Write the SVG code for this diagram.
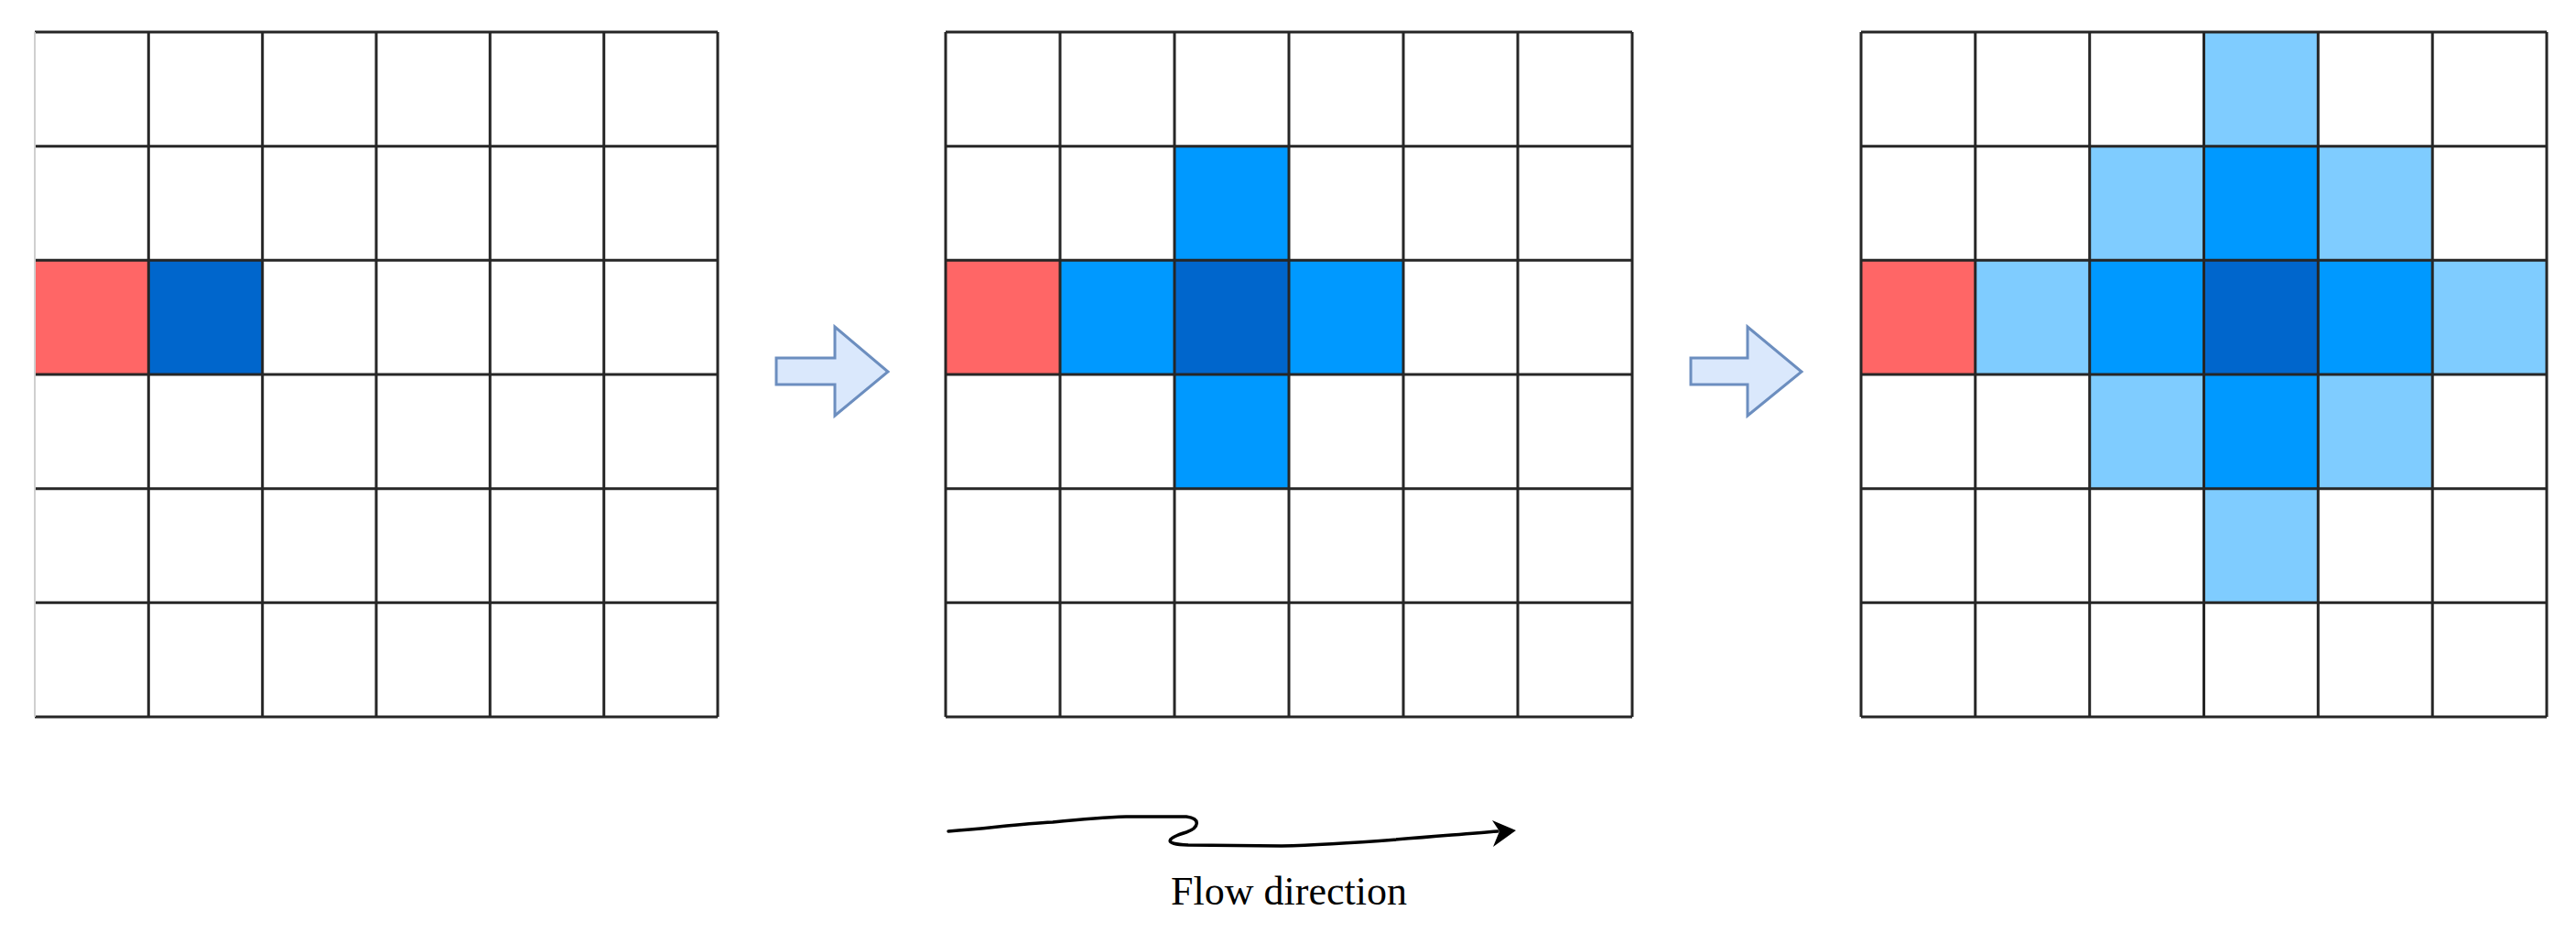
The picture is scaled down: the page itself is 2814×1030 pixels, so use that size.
<svg xmlns="http://www.w3.org/2000/svg" width="2814" height="1030" viewBox="0 0 2814 1030">
<style>
.red{fill:#FF6666}
.dk{fill:#0066CC}
.md{fill:#0099FF}
.lt{fill:#7FCCFF}
.grid{fill:none;stroke:#262626;stroke-width:3}
.big{fill:#DAE8FC;stroke:#6C8EBF;stroke-width:3;stroke-linejoin:miter}
.flow{fill:none;stroke:#000;stroke-width:3.5;stroke-linecap:round;stroke-linejoin:round}
.lbl{font-family:"Liberation Serif","Times New Roman",serif;font-size:44px;fill:#000}
</style>
<rect width="2814" height="1030" fill="#fff"/>

<g id="grid1">
<rect class="red" x="38" y="284.3" width="124.3" height="124.7"/>
<rect class="dk" x="162.3" y="284.3" width="124.4" height="124.7"/>
<path class="grid" d="M38,35H784M38,159.7H784M38,284.3H784M38,409H784M38,533.7H784M38,658.3H784M38,783H784M162.3,35V783M286.7,35V783M411,35V783M535.3,35V783M659.7,35V783M784,35V783"/>
<path d="M38,35V783" fill="none" stroke="#cfcfcf" stroke-width="2"/>
</g>

<g id="grid2">
<rect class="red" x="1033" y="284.3" width="125" height="124.7"/>
<rect class="md" x="1158" y="284.3" width="125" height="124.7"/>
<rect class="dk" x="1283" y="284.3" width="125" height="124.7"/>
<rect class="md" x="1408" y="284.3" width="125" height="124.7"/>
<rect class="md" x="1283" y="159.7" width="125" height="124.6"/>
<rect class="md" x="1283" y="409" width="125" height="124.7"/>
<path class="grid" d="M1033,35H1783M1033,159.7H1783M1033,284.3H1783M1033,409H1783M1033,533.7H1783M1033,658.3H1783M1033,783H1783M1033,35V783M1158,35V783M1283,35V783M1408,35V783M1533,35V783M1658,35V783M1783,35V783"/>
</g>

<g id="grid3">
<rect class="red" x="2033" y="284.3" width="124.8" height="124.7"/>
<rect class="lt" x="2157.8" y="284.3" width="124.9" height="124.7"/>
<rect class="md" x="2282.7" y="284.3" width="124.8" height="124.7"/>
<rect class="dk" x="2407.5" y="284.3" width="124.8" height="124.7"/>
<rect class="md" x="2532.3" y="284.3" width="124.9" height="124.7"/>
<rect class="lt" x="2657.2" y="284.3" width="124.8" height="124.7"/>
<rect class="lt" x="2407.5" y="35" width="124.8" height="124.7"/>
<rect class="lt" x="2282.7" y="159.7" width="124.8" height="124.6"/>
<rect class="md" x="2407.5" y="159.7" width="124.8" height="124.6"/>
<rect class="lt" x="2532.3" y="159.7" width="124.9" height="124.6"/>
<rect class="lt" x="2282.7" y="409" width="124.8" height="124.7"/>
<rect class="md" x="2407.5" y="409" width="124.8" height="124.7"/>
<rect class="lt" x="2532.3" y="409" width="124.9" height="124.7"/>
<rect class="lt" x="2407.5" y="533.7" width="124.8" height="124.6"/>
<path class="grid" d="M2033,35H2782M2033,159.7H2782M2033,284.3H2782M2033,409H2782M2033,533.7H2782M2033,658.3H2782M2033,783H2782M2033,35V783M2157.8,35V783M2282.7,35V783M2407.5,35V783M2532.3,35V783M2657.2,35V783M2782,35V783"/>
</g>

<g id="connectors">
<polygon id="step1" class="big" points="848,391 912,391 912,357 970,406 912,454 912,420 848,420"/>
<polygon id="step2" class="big" points="1847,391 1909,391 1909,357 1968,406 1909,454 1909,420 1847,420"/>
<g id="flow">
<path class="flow" d="M1036,908 C1080,905 1110,900 1150,898 C1180,895 1200,893 1230,892 L1296,892 C1312,894 1310,904 1296,909 C1276,915 1268,922 1298,923 L1400,924 C1480,922 1560,914 1636,908"/>
<polygon points="1656,907 1630,896 1638,908 1631,925" fill="#000"/>
</g>
</g>
<text class="lbl" x="1408" y="988" text-anchor="middle">Flow direction</text>
</svg>
